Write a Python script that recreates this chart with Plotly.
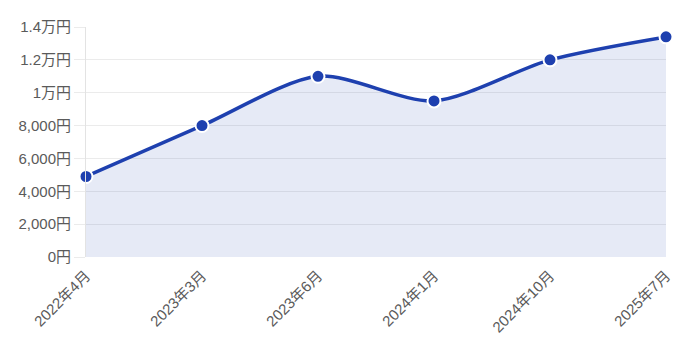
import plotly.graph_objects as go

months = ["2022年4月", "2023年3月", "2023年6月", "2024年1月", "2024年10月", "2025年7月"]
values = [4900, 8000, 11000, 9500, 12000, 13400]
y_tickvals = [0, 2000, 4000, 6000, 8000, 10000, 12000, 14000]
y_ticktext = ["0円", "2,000円", "4,000円", "6,000円", "8,000円", "1万円", "1.2万円", "1.4万円"]

fig = go.Figure()
fig.add_trace(go.Scatter(
    x=list(range(len(months))), y=values,
    mode="lines+markers",
    line=dict(color="#1e40af", width=3.5, shape="spline", smoothing=0.8),
    marker=dict(size=13, color="#1e40af", line=dict(color="white", width=2)),
    fill="tozeroy", fillcolor="rgba(30,64,175,0.11)",
    cliponaxis=False,
))

font_family = "Liberation Sans, Noto Sans CJK JP, sans-serif"
fig.update_layout(
    width=677, height=348,
    margin=dict(l=78, r=19, t=19, b=99),
    plot_bgcolor="white", paper_bgcolor="white",
    showlegend=False,
    font=dict(family=font_family, size=15, color="#5a5a5a"),
    xaxis=dict(
        tickmode="array", tickvals=list(range(len(months))), ticktext=months,
        range=[0, len(months) - 1], tickangle=-45,
        showgrid=False, zeroline=False,
        showline=False, ticks="outside", ticklen=3, tickcolor="rgba(0,0,0,0)",
        automargin=False,
        tickfont=dict(size=15, color="#5a5a5a"),
    ),
    yaxis=dict(
        tickmode="array", tickvals=y_tickvals, ticktext=y_ticktext,
        range=[0, 14000],
        showgrid=True, gridcolor="#ebebeb", gridwidth=1,
        zeroline=False, automargin=False,
        showline=True, linecolor="#e3e3e3", linewidth=1,
        ticks="outside", ticklen=11, tickcolor="#ebebeb",
        tickfont=dict(size=15, color="#5a5a5a"),
    ),
)
fig.write_html("out.html")
